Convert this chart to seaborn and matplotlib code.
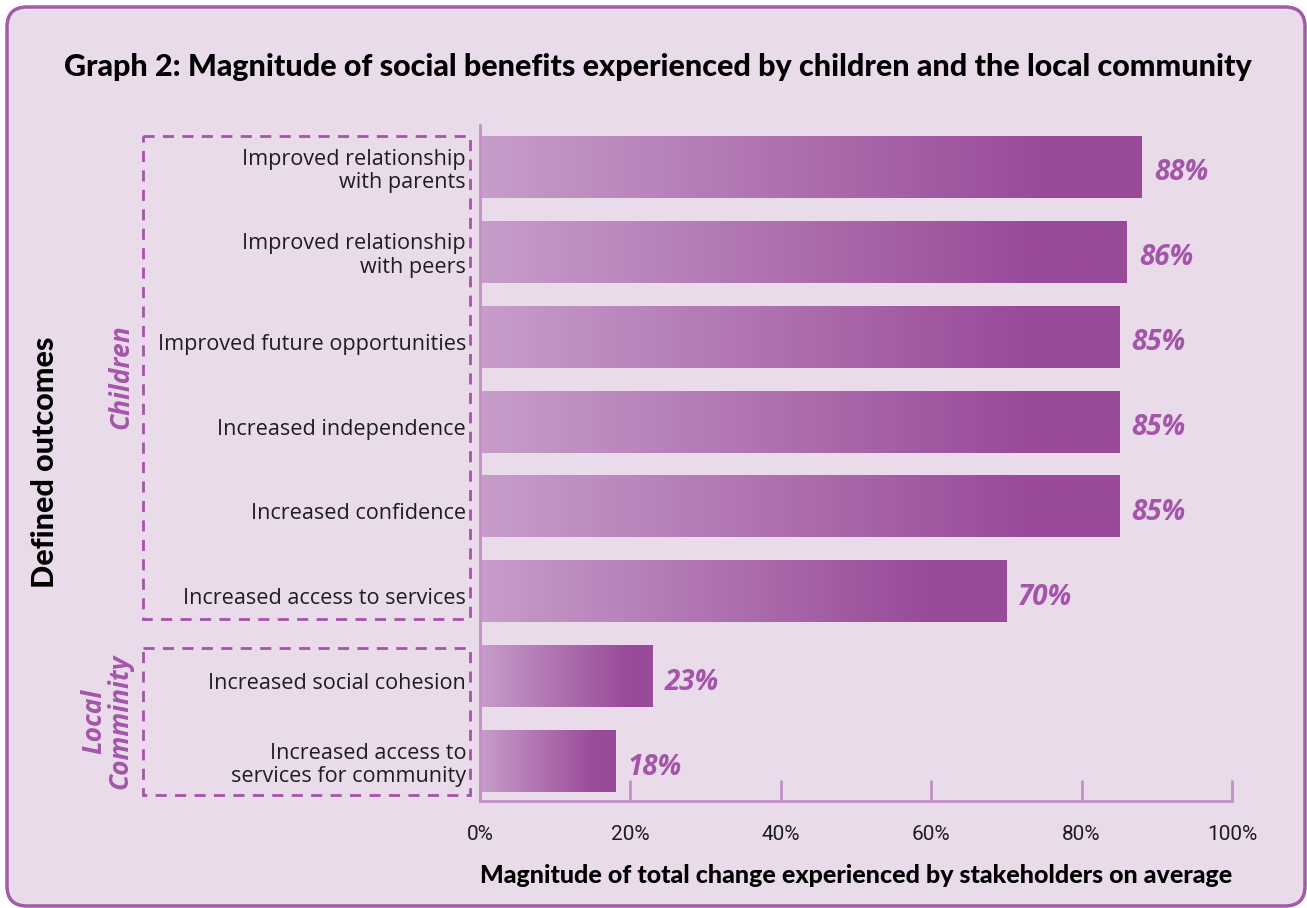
import numpy as np
import pandas as pd
import matplotlib
matplotlib.use("Agg")
import matplotlib.pyplot as plt
from matplotlib.colors import to_rgba
from matplotlib.patches import FancyBboxPatch, Rectangle
import matplotlib.transforms as mtransforms
import seaborn as sns

# ---- data ----
categories = [
    "Improved relationship\nwith parents",
    "Improved relationship\nwith peers",
    "Improved future opportunities",
    "Increased independence",
    "Increased confidence",
    "Increased access to services",
    "Increased social cohesion",
    "Increased access to\nservices for community",
]
values = [88, 86, 85, 85, 85, 70, 23, 18]
x_ticks = [0, 20, 40, 60, 80, 100]
x_ticklabels = ["0%", "20%", "40%", "60%", "80%", "100%"]
groups = ["Children", "Local\nComminity"]

# ---- style ----
BG = "#E9DBEA"
BORDER = "#A35AA9"
LIGHT = "#C79DCA"
DARK = "#994B99"
SPINE = "#C48FC7"
LABEL_PURPLE = "#A455AA"
TEXT = "#1E1E1E"

sns.set_theme(style="white")
plt.rcParams["font.family"] = ["Lato", "DejaVu Sans"]

W, H = 1307, 908
fig = plt.figure(figsize=(W / 100, H / 100), dpi=100)
fig.patch.set_facecolor("white")

# rounded panel
panel = FancyBboxPatch((7 / 100, 2 / 100), 1298 / 100, 899 / 100,
                       boxstyle="round,pad=0,rounding_size=0.2",
                       transform=fig.dpi_scale_trans, fc=BG, ec=BORDER, lw=2.5,
                       zorder=-5)
fig.patches.append(panel)

ax_l, ax_r = 480 / W, 1232 / W
ax_b, ax_t = 1 - 801 / H, 1 - 125 / H
ax = fig.add_axes([ax_l, ax_b, ax_r - ax_l, ax_t - ax_b])
ax.set_facecolor("none")
ax.set_zorder(2)

df = pd.DataFrame({"outcome": categories, "value": values})
sns.barplot(data=df, x="value", y="outcome", orient="h", ax=ax,
            width=0.73, color=DARK, saturation=1)

# gradient fill for each bar
c0 = np.array(to_rgba(LIGHT))
c1 = np.array(to_rgba(DARK))
for p in list(ax.patches):
    x0, y0, w, h = p.get_x(), p.get_y(), p.get_width(), p.get_height()
    t = np.linspace(0, 1, 256)
    t = np.clip(t / 0.85, 0, 1)
    grad = (c0[None, :] * (1 - t[:, None]) + c1[None, :] * t[:, None])[None, :, :]
    ax.imshow(grad, extent=[x0, x0 + w, y0 + h, y0], aspect="auto",
              interpolation="bilinear", zorder=2)
    p.set_visible(False)

for i, v in enumerate(values):
    ax.text(v + 1.6, i + 0.07, f"{v}%", va="center", ha="left", fontsize=20,
            fontweight="bold", fontstyle="italic", color=LABEL_PURPLE,
            family=["Open Sans", "DejaVu Sans"])

ax.set_xlim(0, 100)
ax.set_ylim(7.47, -0.495)
ax.set_xticks(x_ticks)
ax.set_xticklabels(x_ticklabels)
ax.tick_params(axis="x", bottom=True, direction="in", length=15, width=2,
               color=SPINE, pad=17, labelsize=15, labelcolor=TEXT)
ax.tick_params(axis="y", left=False, length=0, pad=10, labelsize=15.6,
               labelcolor=TEXT)
for lbl in ax.get_xticklabels():
    lbl.set_fontfamily(["Roboto", "DejaVu Sans"])
    lbl.set_fontweight("normal")
ydown = mtransforms.ScaledTranslation(0, -5 / 100, fig.dpi_scale_trans)
for lbl in ax.get_yticklabels():
    lbl.set_fontfamily(["Open Sans", "DejaVu Sans"])
    if "\n" not in lbl.get_text():
        lbl.set_transform(lbl.get_transform() + ydown)
    else:
        lbl.set_linespacing(1.15)

for s in ["top", "right"]:
    ax.spines[s].set_visible(False)
for s in ["left", "bottom"]:
    ax.spines[s].set_visible(True)
    ax.spines[s].set_color(SPINE)
    ax.spines[s].set_linewidth(2)

ax.set_ylabel("")
ax.set_xlabel("Magnitude of total change experienced by stakeholders on average",
              fontsize=18, fontweight="black", color="black", labelpad=15)

# title
fig.text(0.5037, 1 - 67 / H,
         "Graph 2: Magnitude of social benefits experienced by children and the local community",
         ha="center", va="center", fontsize=22, fontweight="black", color="black")

# y label
fig.text(45 / W, 1 - 462 / H, "Defined outcomes", rotation=90, ha="center",
         va="center", fontsize=22, fontweight="black", color="black")

# dashed group boxes (x in figure fraction, y in data)
trans = mtransforms.blended_transform_factory(fig.transFigure, ax.transData)
bx0, bx1 = 143 / W, 470 / W
for (ytop, ybot) in [(-0.365, 5.33), (5.67, 7.40)]:
    r = Rectangle((bx0, ytop), bx1 - bx0, ybot - ytop, transform=trans,
                  fill=False, ec=LABEL_PURPLE, lw=2, ls=(0, (4, 3)),
                  clip_on=False, zorder=1)
    ax.add_artist(r)

ax.text(121 / W, 2.47, groups[0], transform=trans, rotation=90, ha="center",
        va="center", fontsize=19, fontweight="bold", fontstyle="italic",
        color=LABEL_PURPLE, clip_on=False, family=["Open Sans", "DejaVu Sans"])
ax.text(107 / W, 6.53, groups[1], transform=trans, rotation=90, ha="center",
        va="center", fontsize=19, fontweight="bold", fontstyle="italic",
        color=LABEL_PURPLE, clip_on=False, linespacing=0.95,
        family=["Open Sans", "DejaVu Sans"])

fig.savefig("out.png", dpi=100, facecolor=fig.get_facecolor())
